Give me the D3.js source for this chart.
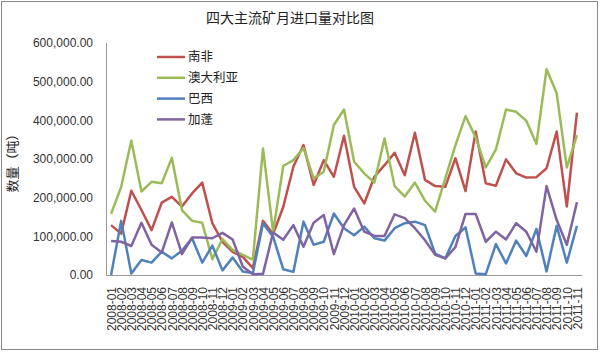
<!DOCTYPE html>
<html>
<head>
<meta charset="utf-8">
<script src="https://cdn.jsdelivr.net/npm/d3@7"></script>
<style>
  body { margin: 0; background: #fff; }
  svg { display: block; font-family: "Liberation Sans", Arial, sans-serif; }
  .cjk { font-family: "Noto Sans CJK SC", sans-serif; }
  .axis text { fill: #333; font-size: 12px; }
  .axis path { stroke: #999; }
  .axis line { display: none; }
</style>
</head>
<body>
<div id="container"></div>
<script>
const months = [];
for (let y = 2008; y <= 2011; y++) {
  for (let m = 1; m <= 12; m++) {
    if (y === 2011 && m > 11) break;
    months.push(`${y}-${String(m).padStart(2, "0")}`);
  }
}

const seriesNames = ["南非", "澳大利亚", "巴西", "加蓬"];
const seriesColors = ["#C0504D", "#9BBB59", "#4F81BD", "#8064A2"];

const southAfrica = [
  129000, 107000, 218000, 168000, 116000, 187000, 202000, 177000, 211000, 239000,
  134000, 86000, 60000, 47000, 18000, 140000, 106000, 176000, 280000, 336000,
  233000, 297000, 254000, 360000, 228000, 185000, 254000, 284000, 316000, 258000,
  368000, 246000, 230000, 228000, 302000, 217000, 371000, 237000, 231000, 299000,
  263000, 252000, 253000, 276000, 371000, 177000, 420000
];
const australia = [
  158000, 228000, 347000, 216000, 241000, 237000, 303000, 168000, 140000, 135000,
  41000, 93000, 65000, 52000, 40000, 327000, 112000, 282000, 297000, 328000,
  250000, 267000, 388000, 428000, 293000, 263000, 239000, 353000, 230000, 203000,
  239000, 192000, 164000, 250000, 335000, 411000, 356000, 278000, 325000, 428000,
  422000, 399000, 339000, 532000, 470000, 278000, 362000
];
const brazil = [
  0, 140000, 4000, 39000, 32000, 60000, 43000, 63000, 95000, 32000,
  76000, 12000, 45000, 9000, 5000, 133000, 99000, 15000, 8000, 138000,
  78000, 86000, 159000, 121000, 103000, 125000, 95000, 89000, 121000, 134000,
  138000, 129000, 55000, 43000, 101000, 123000, 4000, 2000, 80000, 30000,
  89000, 49000, 119000, 9000, 127000, 32000, 127000
];
const gabon = [
  88000, 86000, 75000, 135000, 78000, 58000, 136000, 54000, 97000, 97000,
  95000, 109000, 92000, 22000, 2000, 3000, 110000, 91000, 129000, 73000,
  135000, 155000, 54000, 129000, 172000, 112000, 101000, 101000, 157000, 147000,
  121000, 90000, 52000, 43000, 72000, 158000, 158000, 86000, 112000, 92000,
  134000, 112000, 60000, 230000, 142000, 78000, 188000
];
const seriesValues = [southAfrica, australia, brazil, gabon];

const yTicks = [0, 100000, 200000, 300000, 400000, 500000, 600000];

const totalWidth = 600;
const totalHeight = 352;
const plot = { left: 106, right: 582, top: 43, bottom: 275 };

const svg = d3.select("#container")
  .append("svg")
  .attr("width", totalWidth)
  .attr("height", totalHeight);

// Outer border
svg.append("rect")
  .attr("x", 1.5).attr("y", 1.5)
  .attr("width", 596).attr("height", 348)
  .attr("fill", "#fff")
  .attr("stroke", "#8a8a8a");

const xScale = d3.scalePoint()
  .domain(months)
  .range([plot.left, plot.right])
  .padding(0.5);

const yScale = d3.scaleLinear()
  .domain([0, 600000])
  .range([plot.bottom, plot.top]);

// Y axis
svg.append("g")
  .attr("class", "axis")
  .attr("transform", `translate(${plot.left},0)`)
  .call(d3.axisLeft(yScale).tickValues(yTicks).tickFormat(d3.format(",.2f")).tickSize(0).tickPadding(13))
  .call(g => g.select(".domain").attr("d", `M0.5,${plot.top}V${plot.bottom}`));

// X axis
svg.append("g")
  .attr("class", "axis")
  .attr("transform", `translate(0,${plot.bottom})`)
  .call(d3.axisBottom(xScale).tickSize(0))
  .call(g => g.select(".domain").attr("d", `M${plot.left},0.5H${plot.right}`))
  .selectAll("text")
  .attr("transform", "rotate(-90)")
  .attr("text-anchor", "end")
  .attr("x", -12)
  .attr("y", 0)
  .attr("dy", "0.35em");

// Lines
const line = d3.line()
  .x((d, i) => xScale(months[i]))
  .y(d => yScale(d));

svg.selectAll(".series")
  .data(seriesValues)
  .enter()
  .append("path")
  .attr("class", "series")
  .attr("fill", "none")
  .attr("stroke", (d, i) => seriesColors[i])
  .attr("stroke-width", 2.5)
  .attr("stroke-linejoin", "round")
  .attr("d", line);

// Title
svg.append("text")
  .attr("class", "cjk")
  .attr("x", 290)
  .attr("y", 23)
  .attr("text-anchor", "middle")
  .attr("font-size", 14)
  .attr("fill", "#222")
  .text("四大主流矿月进口量对比图");

// Y axis label
svg.append("text")
  .attr("class", "cjk")
  .attr("transform", "rotate(-90)")
  .attr("x", -160)
  .attr("y", 17)
  .attr("text-anchor", "middle")
  .attr("font-size", 13)
  .attr("fill", "#222")
  .text("数量（吨）");

// Legend
const legend = svg.append("g")
  .selectAll("g")
  .data(seriesNames)
  .enter()
  .append("g")
  .attr("transform", (d, i) => `translate(157,${57 + i * 20.8})`);

legend.append("line")
  .attr("x1", 0).attr("x2", 28)
  .attr("stroke", (d, i) => seriesColors[i])
  .attr("stroke-width", 2.5);

legend.append("text")
  .attr("class", "cjk")
  .attr("x", 31)
  .attr("dy", "0.35em")
  .attr("font-size", 12.5)
  .attr("fill", "#222")
  .text(d => d);
</script>
</body>
</html>
